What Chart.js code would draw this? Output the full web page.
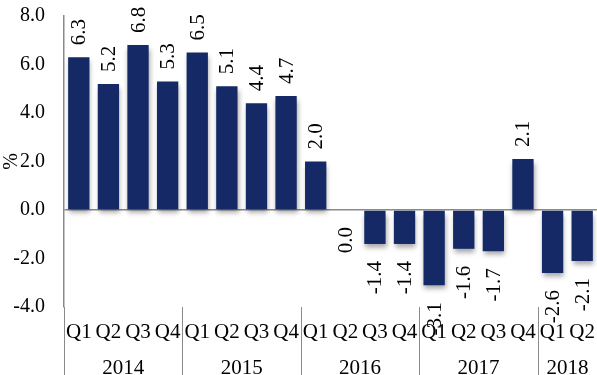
<!DOCTYPE html>
<html lang="en">
<head>
  <meta charset="UTF-8">
  <title>Quarterly growth</title>
  <script src="https://cdn.jsdelivr.net/npm/chart.js"></script>
  <style>
    html, body { margin: 0; padding: 0; background: #fff; }
    #wrap { width: 597px; height: 375px; }
  </style>
</head>
<body>
  <div id="wrap"><canvas id="myChart"></canvas></div>

  <script>
    // data
    var quarters = ['Q1', 'Q2', 'Q3', 'Q4', 'Q1', 'Q2', 'Q3', 'Q4', 'Q1', 'Q2', 'Q3', 'Q4',
                    'Q1', 'Q2', 'Q3', 'Q4', 'Q1', 'Q2'];
    var values = [6.3, 5.2, 6.8, 5.3, 6.5, 5.1, 4.4, 4.7, 2.0, 0.0, -1.4, -1.4,
                  -3.1, -1.6, -1.7, 2.1, -2.6, -2.1];
    var years = ['2014', '2015', '2016', '2017', '2018'];
    var yearStart = [0, 4, 8, 12, 16];   // first quarter index of each year
    var yearCount = [4, 4, 4, 4, 2];

    var FONT = 'Liberation Serif';
    var barColor = '#142966';
    var lineColor = '#8a8a8a';

    // drop shadow under the bars
    var shadowPlugin = {
      id: 'barShadow',
      beforeDatasetDraw: function(chart) {
        var ctx = chart.ctx;
        ctx.save();
        ctx.shadowColor = 'rgba(0,0,0,0.35)';
        ctx.shadowBlur = 5;
        ctx.shadowOffsetX = 1;
        ctx.shadowOffsetY = 4;
      },
      afterDatasetDraw: function(chart) {
        chart.ctx.restore();
      }
    };

    // rotated value labels + year row with separators
    var labelPlugin = {
      id: 'labels',
      afterDatasetsDraw: function(chart) {
        var ctx = chart.ctx;
        var meta = chart.getDatasetMeta(0);
        ctx.save();
        ctx.fillStyle = '#000';
        ctx.font = '21px "' + FONT + '"';
        ctx.textBaseline = 'middle';
        meta.data.forEach(function(bar, i) {
          var v = values[i];
          ctx.save();
          if (v > 0) {
            ctx.translate(bar.x + 1, bar.y - 12);
            ctx.rotate(-Math.PI / 2);
            ctx.textAlign = 'left';
          } else {
            ctx.translate(bar.x + 1, bar.y + 17);
            ctx.rotate(-Math.PI / 2);
            ctx.textAlign = 'right';
          }
          ctx.fillText(v.toFixed(1), 0, 0);
          ctx.restore();
        });

        var xs = chart.scales.x;
        var area = chart.chartArea;
        var half = (xs.getPixelForValue(1) - xs.getPixelForValue(0)) / 2;
        ctx.strokeStyle = lineColor;
        ctx.lineWidth = 1;
        ctx.textAlign = 'center';
        ctx.font = '21px "' + FONT + '"';
        for (var k = 0; k < years.length; k++) {
          var x0 = xs.getPixelForValue(yearStart[k]) - half;
          var x1 = xs.getPixelForValue(yearStart[k] + yearCount[k] - 1) + half;
          ctx.beginPath();
          ctx.moveTo(Math.round(x0) + 0.5, area.bottom);
          ctx.lineTo(Math.round(x0) + 0.5, chart.height);
          ctx.stroke();
          ctx.fillText(years[k], (x0 + x1) / 2, 368);
        }
        ctx.restore();
      }
    };

    var ctx = document.getElementById('myChart').getContext('2d');
    var myChart = new Chart(ctx, {
      type: 'bar',
      data: {
        labels: quarters,
        datasets: [{
          data: values,
          backgroundColor: barColor,
          borderWidth: 0,
          categoryPercentage: 1,
          barPercentage: 0.72
        }]
      },
      options: {
        responsive: true,
        maintainAspectRatio: false,
        animation: false,
        layout: { padding: { top: 16, right: 0, left: 0, bottom: 0 } },
        plugins: {
          legend: { display: false },
          tooltip: { enabled: false }
        },
        scales: {
          x: {
            grid: { display: false, drawTicks: false },
            border: { display: false },
            ticks: {
              autoSkip: false,
              maxRotation: 0,
              padding: 13,
              color: '#000',
              font: { family: FONT, size: 21 }
            },
            afterFit: function(scale) {
              scale.height = 68;
              scale.paddingLeft = 0;
              scale.paddingRight = 0;
            }
          },
          y: {
            min: -4,
            max: 8,
            grid: {
              drawTicks: false,
              color: function(c) { return c.tick && c.tick.value === 0 ? lineColor : 'rgba(0,0,0,0)'; },
              lineWidth: 1.5
            },
            border: { display: true, color: lineColor, width: 1.5 },
            ticks: {
              stepSize: 2,
              padding: 19,
              color: '#000',
              font: { family: FONT, size: 20 },
              callback: function(v) { return v.toFixed(1); }
            },
            title: {
              display: true,
              text: '%',
              color: '#000',
              padding: 0,
              font: { family: FONT, size: 20 }
            },
            afterFit: function(scale) {
              scale.width = 64;
              scale.paddingTop = 0;
              scale.paddingBottom = 0;
            }
          }
        }
      },
      plugins: [shadowPlugin, labelPlugin]
    });
  </script>
</body>
</html>
